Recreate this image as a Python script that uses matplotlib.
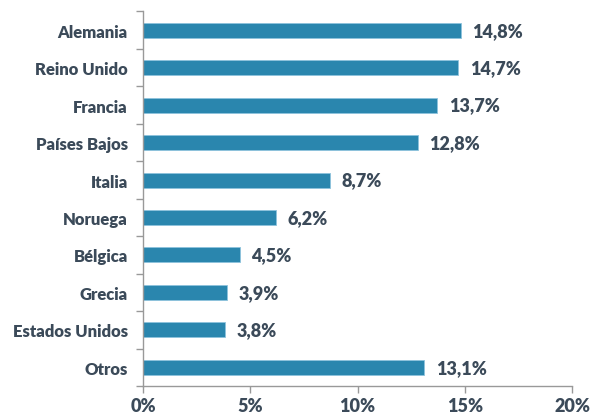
import matplotlib
matplotlib.use("Agg")
import matplotlib.pyplot as plt
import numpy as np

categories = ["Alemania", "Reino Unido", "Francia", "Países Bajos", "Italia",
              "Noruega", "Bélgica", "Grecia", "Estados Unidos", "Otros"]
values = [14.8, 14.7, 13.7, 12.8, 8.7, 6.2, 4.5, 3.9, 3.8, 13.1]
xticks = [0, 5, 10, 15, 20]

plt.rcParams['font.family'] = ['Lato', 'DejaVu Sans']
txt = '#3b4a59'
bar_color = '#2a86ae'

fig = plt.figure(figsize=(5.91, 4.14), dpi=100)
ax = fig.add_axes([0.242, 0.065, 0.726, 0.905])
y = np.arange(len(categories))
ax.barh(y, values, height=0.4, color=bar_color, edgecolor='#8ec3dc', linewidth=0.6)
ax.set_ylim(len(categories) - 0.5, -0.5)
ax.set_xlim(0, 20)
ax.set_yticks(y)
ax.set_yticklabels(categories, fontsize=12, fontweight='heavy', color=txt)
ax.set_yticks(np.arange(-0.5, len(categories), 1), minor=True)
ax.tick_params(axis='y', which='major', length=0, pad=11)
ax.tick_params(axis='y', which='minor', length=5, color='#999999', width=1)
ax.set_xticks(xticks)
ax.set_xticklabels([f"{t}%" for t in xticks], fontsize=13, fontweight='heavy', color=txt)
ax.tick_params(axis='x', length=5, color='#999999', width=1, pad=3)
for s in ['top', 'right']:
    ax.spines[s].set_visible(False)
for s in ['left', 'bottom']:
    ax.spines[s].set_color('#999999')
    ax.spines[s].set_linewidth(1)
for yi, v in zip(y, values):
    ax.text(v + 0.55, yi, f"{v:.1f}%".replace('.', ','), va='center', ha='left',
            fontsize=13, fontweight='heavy', color=txt)
fig.savefig("out.png", dpi=100)
